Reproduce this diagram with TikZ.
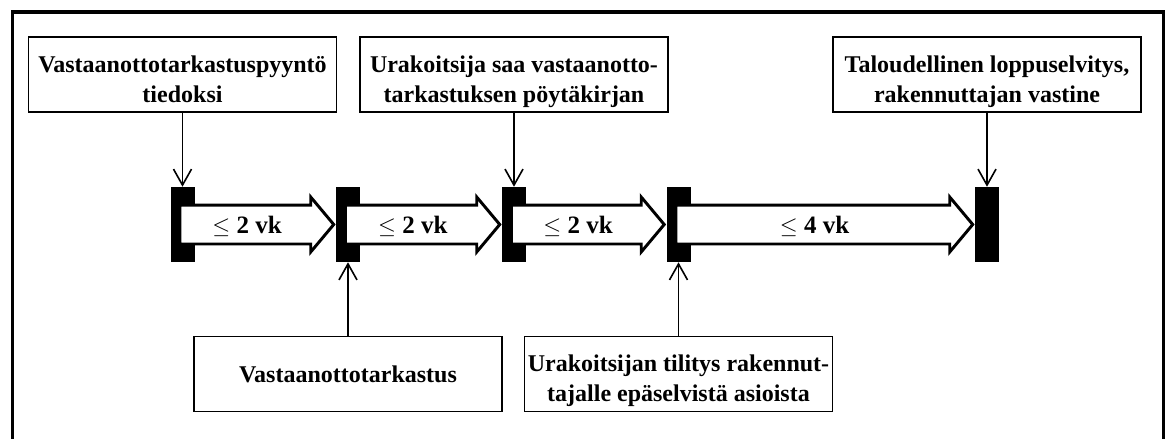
\documentclass[tikz,border=0pt]{standalone}
\usepackage{fontspec}
\setmainfont{Liberation Serif}
\usetikzlibrary{arrows.meta,calc}

% struts that fix the top of the first line and the bottom of the last one
\newcommand\lineAtop{\rule{0pt}{23.75pt}}
\newcommand\lineBbot{\rule[-5pt]{0pt}{5pt}}

\begin{document}
\begin{tikzpicture}[x=0.75pt,y=-0.75pt,
  phasebox/.style={draw, line width=1.1pt, minimum width=231pt, minimum height=56.25pt,
    inner sep=0pt, align=center, font=\bfseries\fontsize{18}{22.5}\selectfont},
  milestone/.style={fill=black, draw=none, minimum width=18pt, minimum height=56.25pt, inner sep=0pt},
  blockarrow/.style={draw=black, fill=white, line width=2.2pt, line join=miter},
  durlabel/.style={font=\fontsize{18.75}{22}\selectfont, anchor=base, inner sep=0pt},
  feed/.style={line width=1.2pt, -{Straight Barb[length=12pt,width=13.5pt]}},
  outerframe/.style={line width=2.6pt}
]
\useasboundingbox (0,0) rectangle (1171,439);
\fill[white] (0,0) rectangle (1171,439);
\clip (0,0) rectangle (1171,439);

% frame, open at the bottom
\draw[outerframe] (12.5,460) -- (12.5,12) -- (1163.5,12) -- (1163.5,460);

% milestones on the time line
\node[milestone] (m1) at (182.5,224.5) {};
\node[milestone] (m2) at (348,224.5) {};
\node[milestone] (m3) at (514,224.5) {};
\node[milestone] (m4) at (678.5,224.5) {};
\node[milestone] (m5) at (987,224.5) {};

% block arrow from one milestone to the next, with its duration
\newcommand\phasearrow[4]{%
  \draw[blockarrow] let \p1=(#1.center), \p2=(#2.west) in
    (\x1-1.9pt,\y1+14.6pt) -- (\x2-18.75pt,\y1+14.6pt) -- (\x2-18.75pt,\y1+20.6pt)
    -- (\x2-1.5pt,\y1) -- (\x2-18.75pt,\y1-20.6pt) -- (\x2-18.75pt,\y1-14.6pt)
    -- (\x1-1.9pt,\y1-14.6pt) -- cycle;
  \path let \p1=(#1.center), \p2=(#2.west) in
    node[durlabel] (#3) at ({(\x1+\x2)/2-9pt},\y1-7.1pt) {$\leq$ \textbf{#4 vk}};
}
\phasearrow{m1}{m2}{d1}{2}
\phasearrow{m2}{m3}{d2}{2}
\phasearrow{m3}{m4}{d3}{2}
\phasearrow{m4}{m5}{d4}{4}

% events
\node[phasebox] (req) at (182.5,74.5) {\lineAtop Vastaanottotarkastuspyyntö\\tiedoksi\lineBbot};
\node[phasebox] (minutes) at (514,74.5) {\lineAtop Urakoitsija saa vastaanotto-\\tarkastuksen pöytäkirjan\lineBbot};
\node[phasebox] (final) at (987,74.5) {\lineAtop Taloudellinen loppuselvitys,\\rakennuttajan vastine\lineBbot};
\node[phasebox] (insp) at (348,374) {Vastaanottotarkastus};
\node[phasebox] (report) at (678.5,374) {\lineAtop Urakoitsijan tilitys rakennut-\\tajalle epäselvistä asioista\lineBbot};

% links from events to milestones
\draw[feed] (req.south) -- (m1.north);
\draw[feed] (minutes.south) -- (m3.north);
\draw[feed] (final.south) -- (m5.north);
\draw[feed] (insp.north) -- (m2.south);
\draw[feed] (report.north) -- (m4.south);
\end{tikzpicture}
\end{document}
